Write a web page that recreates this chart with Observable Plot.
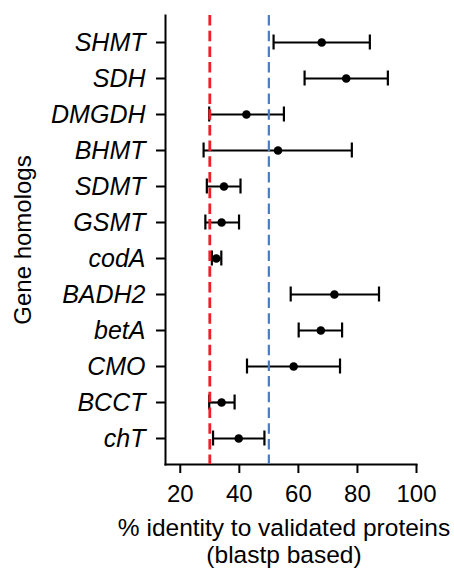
<!DOCTYPE html>
<html>
<head>
<meta charset="utf-8">
<script src="https://cdn.jsdelivr.net/npm/d3@7"></script>
<script src="https://cdn.jsdelivr.net/npm/@observablehq/plot@0.6"></script>
<style>
  html, body { margin: 0; padding: 0; background: #fff; }
  #wrap { position: relative; width: 454px; height: 574px; overflow: hidden; }
  g[aria-label="y-axis tick label"] text { font-style: italic; }
  #xtitle { position: absolute; left: 84px; width: 400px; top: 514px; text-align: center;
    font-family: "Liberation Sans", Arial, sans-serif; font-size: 24.5px; line-height: 27px; color: #000; }
</style>
</head>
<body>
<div id="wrap"><div id="chart"></div><div id="xtitle">% identity to validated proteins<br>(blastp based)</div></div>
<script>
const genes = ["SHMT","SDH","DMGDH","BHMT","SDMT","GSMT","codA","BADH2","betA","CMO","BCCT","chT"];
const meanIdentity = [67.9, 76.2, 42.4, 53.1, 34.8, 34.0, 32.2, 72.2, 67.6, 58.4, 34.0, 39.8];
const lowerIdentity = [51.6, 62.1, 29.8, 27.9, 29.0, 28.5, 30.7, 57.4, 60.1, 42.6, 29.8, 31.1];
const upperIdentity = [84.2, 90.3, 55.1, 78.1, 40.4, 39.9, 33.9, 87.3, 74.8, 74.1, 38.4, 48.5];
const xTicks = [20, 40, 60, 80, 100];
const thresholdLow = [30];
const thresholdHigh = [50];

const data = genes.map((g, i) => ({gene: g, mean: meanIdentity[i], lower: lowerIdentity[i], upper: upperIdentity[i]}));

const chart = Plot.plot({
  width: 454,
  height: 512,
  marginLeft: 165,
  marginRight: 38,
  marginTop: 15,
  marginBottom: 48,
  style: {fontFamily: "Liberation Sans, Arial, sans-serif", fontSize: "24px", color: "#000", background: "#fff", overflow: "visible"},
  x: {domain: [15, 100]},
  y: {type: "band", domain: genes, paddingInner: 0, paddingOuter: 0.22},
  marks: [
    Plot.axisX({ticks: xTicks, tickSize: 9, tickPadding: 11, label: null, fontSize: 24, strokeWidth: 2}),
    Plot.axisY({tickSize: 9, tickPadding: 11, fontSize: 25, strokeWidth: 2, label: null}),
    Plot.axisY({ticks: [], tickSize: 0, fontSize: 24, label: "Gene homologs", labelAnchor: "center", labelOffset: 152}),
    Plot.frame({anchor: "left", strokeWidth: 2}),
    Plot.frame({anchor: "bottom", strokeWidth: 2}),
    Plot.ruleY(data, {y: "gene", x1: "lower", x2: "upper", stroke: "#000", strokeWidth: 2.2}),
    Plot.tickX(data, {x: "lower", y: "gene", stroke: "#000", strokeWidth: 2.2, insetTop: 10.5, insetBottom: 10.5}),
    Plot.tickX(data, {x: "upper", y: "gene", stroke: "#000", strokeWidth: 2.2, insetTop: 10.5, insetBottom: 10.5}),
    Plot.dot(data, {x: "mean", y: "gene", r: 4.3, fill: "#000", stroke: null}),
    Plot.ruleX(thresholdLow, {stroke: "#ee1f26", strokeWidth: 2.8, strokeDasharray: "10.5,5.2"}),
    Plot.ruleX(thresholdHigh, {stroke: "#4a7cc4", strokeWidth: 2.2, strokeDasharray: "10.5,5.2"})
  ]
});
document.getElementById("chart").appendChild(chart);
</script>
</body>
</html>
